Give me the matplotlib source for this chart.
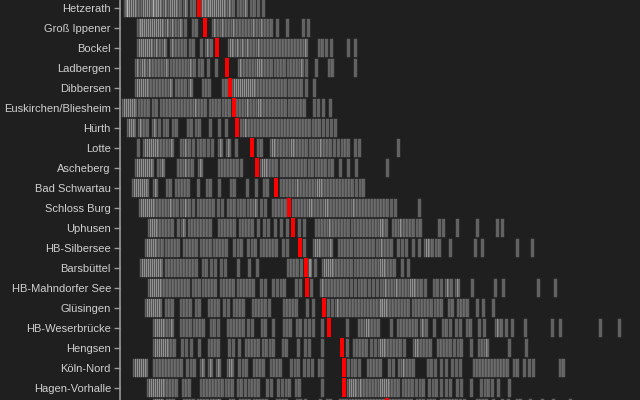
import matplotlib.pyplot as plt
import numpy as np

places = ["Hetzerath", "Groß Ippener", "Bockel", "Ladbergen", "Dibbersen",
          "Euskirchen/Bliesheim", "Hürth", "Lotte", "Ascheberg", "Bad Schwartau",
          "Schloss Burg", "Uphusen", "HB-Silbersee", "Barsbüttel", "HB-Mahndorfer See",
          "Glüsingen", "HB-Weserbrücke", "Hengsen", "Köln-Nord", "Hagen-Vorhalle", ""]

medians = [199, 204.5, 217, 227, 230, 233.5, 237, 252, 257, 276,
           289, 293, 300, 305.5, 307, 324, 329, 342, 344, 344, 386.5]

ticks = [
    [125, 126, 127, 128, 130, 132, 134, 136, 139, 142, 144, 146, 148, 150, 152, 153, 154, 156, 157, 159, 161,
     164, 166, 169, 171, 173, 175, 177, 180, 184, 186, 191, 194, 202, 203, 205, 206, 208, 209, 211, 213, 215,
     217, 219, 221, 223, 225, 228, 230, 233, 238, 241, 244, 246, 251, 254, 258, 263],
    [138, 140, 141, 143, 145, 147, 149, 151, 153, 155, 157, 159, 161, 163, 166, 168, 171, 173, 176, 179, 181,
     185, 193, 196, 213, 215, 218, 221, 223, 226, 229, 232, 234, 237, 240, 243, 246, 249, 252, 254, 257, 260,
     262, 265, 268, 271, 277, 287, 303, 308],
    [138, 140, 142, 144, 146, 148, 150, 152, 155, 157, 160, 163, 165, 171, 173, 176, 179, 182, 185, 190, 193,
     201, 206, 208, 211, 229, 231, 233, 236, 238, 241, 243, 246, 248, 251, 254, 257, 259, 262, 265, 268, 271,
     274, 277, 280, 283, 286, 289, 292, 295, 298, 301, 304, 306, 319, 322, 326, 331, 348, 355],
    [136, 138, 141, 143, 145, 148, 150, 153, 156, 159, 162, 165, 167, 171, 174, 177, 180, 183, 186, 189, 191,
     194, 199, 202, 208, 216, 239, 241, 244, 247, 250, 253, 256, 258, 260, 262, 265, 268, 271, 275, 278, 281,
     284, 288, 291, 294, 297, 300, 302, 306, 316, 329, 332, 355],
    [136, 138, 140, 142, 144, 146, 148, 151, 154, 157, 160, 163, 166, 169, 171, 176, 179, 182, 185, 189, 191,
     203, 206, 209, 223, 226, 233, 235, 237, 239, 241, 243, 245, 247, 249, 251, 253, 255, 258, 261, 264, 267,
     270, 273, 276, 279, 282, 285, 289, 292, 295, 298, 301, 306, 314],
    [123, 125, 127, 129, 131, 133, 135, 139, 142, 145, 148, 153, 156, 161, 164, 167, 170, 173, 176, 179, 182,
     185, 188, 191, 194, 196, 199, 202, 205, 210, 213, 216, 219, 223, 226, 229, 237, 240, 243, 246, 248, 251,
     254, 257, 259, 261, 264, 267, 270, 273, 276, 279, 282, 285, 289, 292, 295, 298, 301, 304, 314, 318, 323, 330],
    [128, 130, 132, 134, 139, 141, 144, 147, 153, 155, 159, 164, 167, 173, 176, 188, 191, 196, 199, 210, 219,
     226, 241, 244, 246, 249, 252, 255, 258, 261, 264, 267, 270, 273, 276, 279, 282, 285, 288, 291, 294, 297,
     300, 303, 306, 309, 313, 316, 319, 323, 327, 331, 335],
    [138, 144, 146, 148, 150, 152, 154, 156, 158, 161, 164, 167, 170, 172, 181, 184, 186, 189, 193, 198, 201,
     204, 208, 212, 219, 221, 227, 229, 236, 258, 261, 271, 273, 275, 278, 281, 284, 287, 290, 292, 294, 297,
     300, 303, 306, 310, 313, 316, 319, 321, 324, 327, 330, 334, 338, 342, 345, 348, 355, 359, 398],
    [136, 138, 140, 142, 144, 146, 148, 150, 152, 158, 161, 163, 178, 181, 184, 186, 189, 192, 199, 201, 219,
     222, 225, 228, 231, 234, 237, 241, 261, 263, 265, 267, 270, 273, 276, 281, 284, 287, 290, 293, 296, 299,
     302, 305, 309, 312, 316, 319, 322, 325, 329, 332, 340, 348, 356, 387],
    [133, 135, 137, 139, 141, 143, 145, 147, 154, 156, 167, 170, 176, 179, 182, 185, 188, 198, 207, 210, 219,
     231, 234, 247, 256, 264, 267, 281, 284, 287, 290, 293, 296, 298, 301, 304, 307, 310, 313, 316, 318, 320,
     322, 325, 328, 331, 334, 337, 340, 343, 346, 349, 352, 356, 360, 363],
    [140, 142, 144, 146, 148, 150, 152, 154, 157, 160, 163, 166, 169, 171, 174, 177, 181, 184, 186, 189, 193,
     198, 201, 204, 207, 210, 213, 218, 222, 228, 231, 234, 238, 241, 244, 248, 251, 254, 256, 261, 265, 273,
     276, 279, 282, 285, 293, 296, 299, 302, 305, 308, 310, 312, 315, 318, 321, 324, 326, 328, 331, 334, 337,
     340, 343, 346, 349, 352, 354, 357, 360, 363, 366, 369, 372, 375, 378, 381, 384, 387, 391, 395, 419],
    [149, 151, 153, 155, 157, 160, 163, 166, 169, 172, 178, 182, 184, 189, 192, 195, 198, 201, 204, 207, 210,
     219, 222, 225, 228, 231, 234, 240, 243, 246, 249, 252, 258, 264, 268, 275, 281, 287, 299, 304, 316, 319,
     322, 325, 328, 330, 333, 336, 339, 342, 345, 348, 352, 355, 358, 361, 364, 367, 370, 373, 376, 379, 381,
     383, 386, 393, 396, 399, 401, 404, 407, 410, 413, 417, 420, 439, 443, 457, 477, 497, 502],
    [146, 148, 150, 152, 154, 156, 159, 162, 166, 169, 172, 175, 178, 184, 187, 190, 193, 196, 201, 204, 207,
     210, 214, 217, 220, 223, 226, 234, 238, 241, 248, 252, 255, 261, 264, 267, 270, 273, 276, 283, 287, 304,
     314, 316, 318, 320, 323, 326, 329, 331, 339, 342, 345, 348, 351, 355, 358, 361, 364, 367, 370, 373, 377,
     380, 382, 385, 388, 391, 398, 402, 406, 413, 419, 425, 427, 429, 432, 436, 439, 450, 475, 482, 517, 532],
    [141, 143, 145, 147, 149, 151, 153, 155, 157, 159, 161, 166, 169, 172, 175, 178, 181, 184, 187, 190, 193,
     196, 203, 206, 211, 215, 221, 225, 238, 249, 257, 288, 291, 294, 297, 301, 309, 310, 315, 323, 325, 327,
     329, 331, 333, 336, 339, 342, 345, 348, 351, 355, 358, 361, 364, 367, 370, 373, 376, 379, 381, 383, 385,
     388, 391, 394, 402, 408],
    [149, 151, 153, 155, 157, 159, 161, 164, 167, 170, 173, 176, 179, 182, 185, 188, 193, 196, 199, 203, 206,
     209, 212, 215, 221, 224, 227, 230, 233, 238, 241, 244, 247, 250, 253, 261, 265, 273, 277, 281, 284, 296,
     300, 311, 321, 323, 326, 329, 332, 335, 338, 341, 344, 347, 351, 355, 359, 362, 365, 369, 373, 377, 381,
     384, 386, 389, 392, 395, 397, 400, 403, 406, 409, 411, 413, 415, 418, 421, 425, 434, 437, 441, 446, 448,
     451, 456, 458, 472, 495, 503, 538, 555],
    [146, 148, 150, 152, 154, 156, 158, 160, 166, 169, 172, 181, 184, 187, 190, 196, 199, 209, 212, 215, 218,
     224, 228, 234, 237, 240, 243, 253, 256, 259, 262, 265, 269, 284, 287, 290, 293, 296, 307, 313, 328, 332,
     336, 338, 341, 344, 347, 350, 353, 356, 359, 362, 365, 368, 371, 374, 377, 380, 381, 383, 385, 387, 390,
     393, 396, 399, 402, 405, 408, 413, 416, 419, 422, 425, 428, 431, 435, 438, 441, 449, 452, 458, 461, 464,
     467, 477, 483, 493],
    [154, 156, 158, 160, 162, 164, 167, 170, 172, 181, 184, 187, 190, 194, 197, 200, 203, 211, 214, 218, 228,
     231, 234, 237, 240, 243, 248, 252, 262, 265, 273, 284, 287, 290, 297, 300, 305, 309, 313, 322, 347, 359,
     362, 365, 367, 369, 372, 375, 378, 391, 398, 401, 404, 407, 410, 413, 416, 421, 423, 426, 434, 443, 446,
     450, 456, 460, 467, 470, 479, 484, 496, 498, 501, 506, 512, 525, 552, 560, 600, 619],
    [154, 156, 158, 160, 162, 164, 166, 168, 171, 174, 182, 186, 191, 199, 209, 212, 215, 218, 229, 233, 239,
     246, 249, 252, 255, 258, 263, 266, 270, 273, 283, 286, 298, 305, 309, 322, 347, 354, 357, 360, 363, 366,
     371, 375, 379, 381, 383, 385, 388, 391, 394, 397, 400, 404, 414, 416, 418, 421, 424, 427, 430, 438, 441,
     444, 447, 450, 454, 458, 461, 471, 479, 482, 485, 487, 509, 526],
    [134, 136, 138, 140, 142, 144, 146, 154, 157, 160, 163, 166, 169, 172, 175, 178, 181, 187, 191, 194, 201,
     203, 209, 211, 217, 219, 228, 230, 232, 239, 243, 246, 254, 257, 260, 263, 271, 274, 277, 280, 291, 295,
     298, 304, 308, 312, 319, 322, 348, 352, 355, 359, 368, 371, 374, 377, 380, 389, 393, 399, 402, 404, 407,
     410, 413, 428, 431, 435, 441, 446, 452, 456, 460, 474, 477, 480, 483, 486, 489, 492, 495, 498, 501, 504,
     507, 514, 517, 524, 529, 533, 560, 563],
    [148, 150, 152, 154, 156, 158, 160, 162, 164, 167, 170, 173, 176, 183, 186, 189, 201, 204, 207, 210, 213,
     216, 219, 222, 226, 229, 232, 238, 241, 245, 249, 252, 255, 258, 267, 271, 278, 282, 286, 289, 296, 299,
     322, 348, 350, 352, 354, 356, 359, 361, 364, 367, 370, 373, 376, 379, 381, 383, 385, 387, 389, 392, 395,
     398, 403, 406, 409, 412, 416, 420, 423, 429, 433, 436, 441, 446, 450, 457, 461, 471, 481, 485, 488, 492,
     498, 509],
    [154, 156, 158, 160, 162, 167, 170, 173, 184, 187, 190, 193, 198, 201, 204, 207, 211, 214, 217, 219, 230,
     233, 240, 243, 246, 249, 254, 257, 260, 263, 266, 277, 280, 283, 286, 297, 300, 305, 320, 327, 330, 340,
     343, 346, 350, 353, 356, 359, 362, 365, 368, 371, 374, 377, 380, 383, 390, 393, 396, 399, 402, 405, 408,
     411, 417, 420, 423, 428, 431, 434, 441, 444, 447, 450, 453, 456, 460, 464, 477, 480, 483, 486, 493, 502,
     508, 517, 520, 530, 542, 553, 570],
]

bg = '#1f1f1f'
fig = plt.figure(figsize=(6.4, 4), dpi=100, facecolor=bg)
ax = fig.add_axes([120 / 640, 0, 1 - 120 / 640, 1])
ax.set_facecolor(bg)

for i, xs in enumerate(ticks):
    ax.bar(xs, 0.92, width=4, bottom=i - 0.46, facecolor=(1, 1, 1, 0.3),
           edgecolor=(0.05, 0.05, 0.05, 0.45), linewidth=0.6)

ax.bar(medians, 0.92, width=4, bottom=np.arange(len(medians)) - 0.46, color='#ff0000', zorder=3)

ax.set_xticks([])
ax.set_yticks(range(len(places)), places, family=['Liberation Sans', 'DejaVu Sans'])
ax.set_xlim(120, 640)
ax.set_ylim(19.625, -0.375)
ax.tick_params(axis='y', colors='#9a9a9a', labelcolor='#d0d0d0', length=4, width=1, pad=2.5, labelsize=8)
for s in ['top', 'right', 'bottom']:
    ax.spines[s].set_visible(False)
ax.spines['left'].set_color('#9a9a9a')
ax.spines['left'].set_linewidth(1.2)

fig.savefig('out.png', facecolor=bg)
